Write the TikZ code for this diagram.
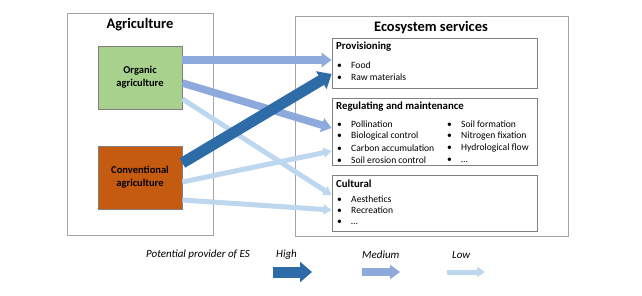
\documentclass[tikz,border=0pt]{standalone}
\usepackage{fontspec}
\setmainfont{Carlito}
\usetikzlibrary{arrows.meta}

\definecolor{highblue}{RGB}{46,108,168}
\definecolor{medblue}{RGB}{142,169,219}
\definecolor{lowblue}{RGB}{189,215,238}
\definecolor{orggreen}{RGB}{169,209,142}
\definecolor{convorange}{RGB}{197,90,17}
\definecolor{framegray}{RGB}{165,165,165}
\definecolor{boxgray}{RGB}{128,128,128}

\tikzset{
  framebox/.style={draw=framegray,line width=0.8pt,inner sep=0pt},
  farmbox/.style={draw=boxgray,line width=0.7pt,align=center,
    font=\fontsize{10.5}{13}\selectfont\bfseries,
    minimum width=84pt,minimum height=63pt},
  esbox/.style={draw=boxgray,line width=0.8pt,inner sep=0pt,minimum width=205pt},
  bigtitle/.style={font=\fontsize{14.5}{17}\selectfont\bfseries},
  estitle/.style={anchor=west,inner sep=0pt,font=\fontsize{10.8}{13}\selectfont\bfseries},
  esitem/.style={anchor=west,inner sep=0pt,font=\fontsize{9.6}{11}\selectfont},
  legtext/.style={anchor=west,inner sep=0pt,font=\fontsize{11}{13}\selectfont\itshape},
  high/.style={highblue,line width=11pt,-{Triangle[length=12pt,width=20pt]}},
  medium/.style={medblue,line width=7.5pt,-{Triangle[length=10pt,width=14pt]}},
  low/.style={lowblue,line width=5pt,-{Triangle[length=8pt,width=10pt]}}
}
\newcommand{\bul}[1]{\makebox[14pt][l]{•}#1}

\begin{document}
\begin{tikzpicture}[x=1pt,y=-1pt]
\useasboundingbox (0,0) rectangle (642,296);

% outer frames
\node[framebox,minimum width=146pt,minimum height=222pt] (agri) at (140,124) {};
\node[framebox,minimum width=273pt,minimum height=220pt] (eco) at (431.5,126) {};
\node[bigtitle] (agrititle) at (140,25) {Agriculture};
\node[bigtitle] (ecotitle) at (431,28) {Ecosystem services};

% farming systems
\node[farmbox,fill=orggreen] (org) at (140,77.5) {Organic\\agriculture};
\node[farmbox,fill=convorange] (conv) at (140,177.5) {Conventional\\agriculture};

% service groups
\node[esbox,minimum height=50pt] (prov) at (434.5,63) {};
\node[esbox,minimum height=67pt] (reg) at (434.5,131.5) {};
\node[esbox,minimum height=56pt] (cult) at (434.5,203) {};

\node[estitle] (provtitle) at (336,47) {Provisioning};
\foreach \txt [count=\i] in {Food,Raw materials}
  \node[esitem] (prov-\i) at (337,53+12*\i) {\bul{\txt}};

\node[estitle] (regtitle) at (336,107) {Regulating and maintenance};
\foreach \txt [count=\i] in {Pollination,Biological control,Carbon accumulation,Soil erosion control}
  \node[esitem] (rega-\i) at (337,112+12*\i) {\bul{\txt}};
\foreach \txt [count=\i] in {Soil formation,Nitrogen fixation,Hydrological flow,…}
  \node[esitem] (regb-\i) at (447,112+12*\i) {\bul{\txt}};

\node[estitle] (culttitle) at (336,184) {Cultural};
\foreach \txt [count=\i] in {Aesthetics,Recreation,…}
  \node[esitem] (cult-\i) at (337,187.5+11.5*\i) {\bul{\txt}};

% links
\draw[medium] ([yshift=17.5pt]org.east) -- ([yshift=3pt]prov.west);
\draw[low]    ([yshift=-21.5pt]org.east) -- ([yshift=8pt]cult.west);
\draw[low]    ([yshift=-4.5pt]conv.east) -- ([yshift=-19.5pt]reg.west);
\draw[low]    ([yshift=-22.5pt]conv.east) -- ([yshift=-7pt]cult.west);
\draw[medium] ([yshift=-5.5pt]org.east) -- ([yshift=3.5pt]reg.west);
\draw[high]   ([yshift=14.5pt]conv.east) -- ([yshift=-11pt]prov.west);

% legend
\node[legtext] (legname) at (146,255) {Potential provider of ES};
\node[legtext] (leghigh) at (276,255) {High};
\node[legtext] (legmed) at (362,255) {Medium};
\node[legtext] (leglow) at (452,255) {Low};
\coordinate (hs) at (273,272); \coordinate (he) at (312,272);
\coordinate (ms) at (362,272); \coordinate (me) at (400,272);
\coordinate (ls) at (447,272); \coordinate (le) at (485,272);
\draw[high] (hs) -- (he);
\draw[medium] (ms) -- (me);
\draw[low] (ls) -- (le);
\end{tikzpicture}
\end{document}
